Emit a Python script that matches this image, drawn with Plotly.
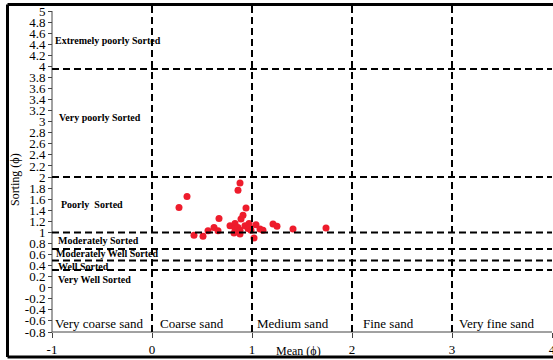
import plotly.graph_objects as go

# Sample data: mean (phi) and sorting (phi)
mean_phi = [0.27, 0.35, 0.42, 0.51, 0.56, 0.62, 0.66, 0.67, 0.78, 0.82, 0.83, 0.83,
            0.86, 0.86, 0.88, 0.88, 0.88, 0.89, 0.91, 0.93, 0.94, 0.96, 0.97, 0.98,
            0.99, 1.02, 1.04, 1.08, 1.11, 1.21, 1.25, 1.41, 1.74]
sorting_phi = [1.45, 1.65, 0.95, 0.93, 1.03, 1.09, 1.03, 1.25, 1.12, 0.99, 1.16, 1.07,
               1.76, 1.09, 1.89, 1.04, 0.97, 1.24, 1.31, 1.12, 1.44, 1.07, 1.16, 1.09,
               1.04, 0.90, 1.14, 1.06, 1.04, 1.15, 1.11, 1.06, 1.08]

# Class boundaries
sorting_bounds = [0.32, 0.49, 0.70, 1.0, 2.0, 3.95]
mean_bounds = [0, 1, 2, 3]

sorting_labels = ["Extremely poorly Sorted", "Very poorly Sorted", "Poorly  Sorted",
                  "Moderately Sorted", "Moderately Well Sorted", "Well Sorted",
                  "Very Well Sorted"]
sorting_label_x = [-0.99, -0.525, -0.6, -0.54, -0.98, -0.69, -0.58]
sorting_label_y = [4.46, 3.07, 1.50, 0.845, 0.61, 0.39, 0.14]
sorting_label_anchor = ["left", "center", "center", "center", "left", "center", "center"]

sand_labels = ["Very coarse sand", "Coarse sand", "Medium sand", "Fine sand", "Very fine sand"]
sand_label_x = [-0.53, 0.40, 1.41, 2.365, 3.445]
sand_label_y = -0.655

y_ticks = [round(-0.8 + 0.2 * i, 1) for i in range(30)]
y_ticktext = [("%g" % v) for v in y_ticks]
x_ticks = [-1, 0, 1, 2, 3, 4]
x_ticktext = ["-1", "0", "1", "2", "3", "4"]

SERIF = "Liberation Serif, Times New Roman, serif"
W, H = 553, 360
PL, PR, PT, PB = 52, 552, 11, 332          # axis box in pixels
XR, YR = [-1, 4], [-0.8, 5]                # axis value ranges


def px_to_x(p):
    return XR[0] + (p - PL) * (XR[1] - XR[0]) / (PR - PL)


def py_to_y(p):
    return YR[1] - (p - PT) * (YR[1] - YR[0]) / (PB - PT)


# the plotting area spans the whole page so the outer frame can be drawn in it
full_xr = [px_to_x(0), px_to_x(W)]
full_yr = [py_to_y(H), py_to_y(0)]

fig = go.Figure()
fig.add_trace(go.Scatter(
    x=mean_phi, y=sorting_phi, mode="markers",
    marker=dict(color="#ee1c2c", size=7, line=dict(width=0)),
    showlegend=False, cliponaxis=False, hoverinfo="x+y",
))

shapes = []
# axis lines
shapes.append(dict(type="line", xref="x", yref="y", x0=XR[0], x1=XR[1], y0=YR[0], y1=YR[0],
                   line=dict(color="#444", width=1), layer="above"))
shapes.append(dict(type="line", xref="x", yref="y", x0=XR[0], x1=XR[0], y0=YR[0], y1=YR[1],
                   line=dict(color="#444", width=1), layer="above"))
# class boundaries
for b in sorting_bounds:
    shapes.append(dict(type="line", xref="x", yref="y", x0=XR[0], x1=XR[1], y0=b, y1=b,
                       line=dict(color="black", width=2, dash="7px,4px"), layer="above"))
for b in mean_bounds:
    shapes.append(dict(type="line", xref="x", yref="y", x0=b, x1=b, y0=YR[0],
                       y1=py_to_y(5),
                       line=dict(color="black", width=2, dash="7px,4px"), layer="above"))
# outer picture frame (left, top, bottom edges; right edge lies outside the picture)
fl, fr, ft, fb = px_to_x(7.5), px_to_x(W + 10), py_to_y(4.5), py_to_y(357)
for (x0, y0, x1, y1) in [(fl, fb, fl, ft), (fl, ft, fr, ft), (fl, fb, fr, fb)]:
    shapes.append(dict(type="line", xref="x", yref="y", x0=x0, y0=y0, x1=x1, y1=y1,
                       line=dict(color="black", width=3), layer="above"))

annotations = []
for t, x, y, a in zip(sorting_labels, sorting_label_x, sorting_label_y, sorting_label_anchor):
    annotations.append(dict(text="<b>%s</b>" % t, x=x, y=y, xref="x", yref="y",
                            xanchor=a, yanchor="middle", showarrow=False,
                            font=dict(family=SERIF, size=10, color="black")))
for t, x in zip(sand_labels, sand_label_x):
    annotations.append(dict(text=t, x=x, y=sand_label_y, xref="x", yref="y",
                            xanchor="center", yanchor="middle", showarrow=False,
                            font=dict(family=SERIF, size=13, color="black")))
annotations.append(dict(text="Mean (ϕ)", x=1.46, y=py_to_y(351), xref="x", yref="y",
                        xanchor="center", yanchor="middle", showarrow=False,
                        font=dict(family=SERIF, size=12, color="black")))
annotations.append(dict(text="Sorting (ϕ)", x=px_to_x(15), y=py_to_y(180), xref="x",
                        yref="y", xanchor="center", yanchor="middle", showarrow=False,
                        textangle=-90, font=dict(family=SERIF, size=12, color="black")))

fig.update_layout(
    width=W, height=H,
    margin=dict(l=0, r=0, t=0, b=0),
    paper_bgcolor="white", plot_bgcolor="white",
    shapes=shapes, annotations=annotations,
    xaxis=dict(range=full_xr, domain=[0, 1], anchor="free", position=1 - PB / H,
               tickvals=x_ticks, ticktext=x_ticktext, automargin=False,
               ticklabeloverflow="allow",
               showgrid=False, zeroline=False, showline=False,
               ticks="outside", ticklen=5, tickcolor="#444",
               tickfont=dict(family=SERIF, size=13, color="black")),
    yaxis=dict(range=full_yr, domain=[0, 1], anchor="free", position=PL / W,
               tickvals=y_ticks, ticktext=y_ticktext, automargin=False,
               ticklabeloverflow="allow",
               showgrid=False, zeroline=False, showline=False,
               ticks="outside", ticklen=4, tickcolor="#444",
               tickfont=dict(family=SERIF, size=13, color="black")),
)

fig.write_html("out.html", config={"displayModeBar": False},
               post_script="document.body.style.margin='0';")
